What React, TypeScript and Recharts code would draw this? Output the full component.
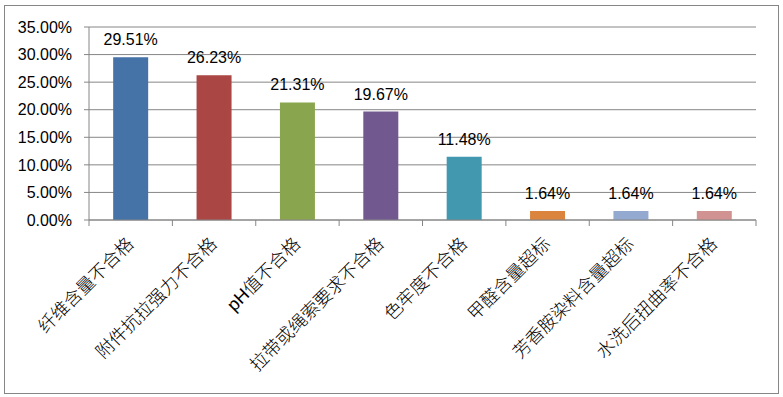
import { BarChart, Bar, XAxis, YAxis, CartesianGrid, Cell, LabelList } from 'recharts';

const categories = [
  '纤维含量不合格',
  '附件抗拉强力不合格',
  'pH值不合格',
  '拉带或绳索要求不合格',
  '色牢度不合格',
  '甲醛含量超标',
  '芳香胺染料含量超标',
  '水洗后扭曲率不合格',
];
const rates = [29.51, 26.23, 21.31, 19.67, 11.48, 1.64, 1.64, 1.64];
const yTicks = [0, 5, 10, 15, 20, 25, 30, 35];
const colors = ['#4572A7', '#AA4643', '#89A54E', '#71588F', '#4198AF', '#DB843D', '#93A9CF', '#D19392'];

const W = 783;
const H = 397;
const LEFT = 89;
const RIGHT = 27;
const TOP = 27;
const BOTTOM = 177;
const BAND = (W - LEFT - RIGHT) / categories.length;
const GRID = '#868686';
const FONT = '"Liberation Sans", "Noto Sans CJK SC", sans-serif';

const data = categories.map((name, i) => ({ name, rate: rates[i] }));

function XTick(props: any) {
  const { x, y, payload, index } = props;
  const last = index === categories.length - 1;
  return (
    <g>
      <line x1={x - BAND / 2} y1={y} x2={x - BAND / 2} y2={y + 6} stroke={GRID} />
      {last && <line x1={x + BAND / 2} y1={y} x2={x + BAND / 2} y2={y + 6} stroke={GRID} />}
      <text
        x={x + 4}
        y={y + 25}
        transform={`rotate(-45, ${x + 4}, ${y + 25})`}
        textAnchor="end"
        fontSize={18}
        fontFamily={FONT}
        fontWeight={300}
        fill="#000"
      >
        {payload.value}
      </text>
    </g>
  );
}

export default function App() {
  return (
    <div style={{ position: 'absolute', left: 0, top: 0, width: W, height: H, background: '#fff' }}>
      <div
        style={{
          position: 'absolute',
          left: 4,
          top: 5,
          width: 773,
          height: 387,
          border: `1px solid ${GRID}`,
        }}
      />
      <BarChart
        width={W}
        height={H}
        data={data}
        margin={{ top: TOP, right: RIGHT, left: 0, bottom: 0 }}
        barCategoryGap="29%"
        style={{ position: 'absolute', left: 0, top: 0 }}
      >
        <CartesianGrid vertical={false} stroke={GRID} strokeDasharray="" />
        <XAxis
          dataKey="name"
          interval={0}
          height={BOTTOM}
          stroke={GRID}
          tickLine={false}
          tickSize={0}
          tickMargin={0}
          tick={<XTick />}
        />
        <YAxis
          width={LEFT}
          domain={[0, 35]}
          ticks={yTicks}
          interval={0}
          stroke={GRID}
          tickSize={5}
          tickMargin={12}
          tickFormatter={(v: number) => `${v.toFixed(2)}%`}
          tick={{ fill: '#000', fontSize: 16, fontFamily: FONT }}
        />
        <Bar dataKey="rate" isAnimationActive={false}>
          {data.map((d, i) => (
            <Cell key={d.name} fill={colors[i]} />
          ))}
          <LabelList
            dataKey="rate"
            position="top"
            offset={12}
            formatter={(v: any) => `${Number(v).toFixed(2)}%`}
            style={{ fill: '#000', fontSize: 16, fontFamily: FONT }}
          />
        </Bar>
      </BarChart>
    </div>
  );
}
